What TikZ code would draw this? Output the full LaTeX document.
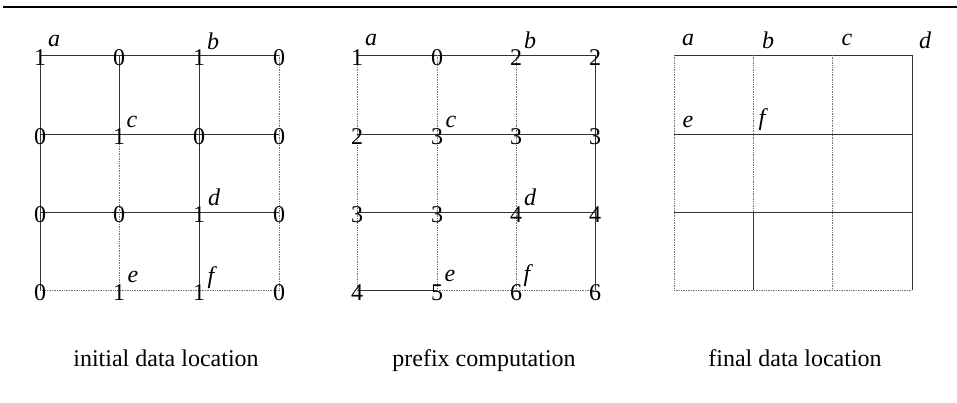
\documentclass[tikz,border=0pt]{standalone}
\usepackage{fontspec}
\setmainfont{Liberation Serif}
\tikzset{
  grid/.style={line width=0.7pt, black!80},
  faint/.style={line width=0.7pt, black!55, densely dotted},
  num/.style={font=\fontsize{24}{28}\selectfont, inner sep=0pt, yshift=-3pt},
  lbl/.style={font=\fontsize{24}{28}\selectfont\itshape, inner sep=0pt},
  captext/.style={font=\fontsize{24}{28}\selectfont, inner sep=0pt, anchor=base}
}
\begin{document}
\begin{tikzpicture}[x=1pt, y=-1pt]
    \useasboundingbox (0,0) rectangle (957,403);

    % top rule
    \coordinate (ruleL) at (3,7);
    \coordinate (ruleR) at (957,7);
    \draw[line width=2pt] (ruleL) -- (ruleR);

    % grid points of the three panels
    \foreach \y [count=\j] in {55,134,212,290} {
        \foreach \x [count=\i] in {40,119,199,279}  \coordinate (A\i\j) at (\x,\y);
        \foreach \x [count=\i] in {357,437,516,595} \coordinate (B\i\j) at (\x,\y);
        \foreach \x [count=\i] in {674,753,832,912} \coordinate (C\i\j) at (\x,\y);
    }

    % initial data location
    \draw[grid] (A11) -- (A41);
    \draw[grid] (A12) -- (A42);
    \draw[grid] (A13) -- (A43);
    \draw[faint] (A14) -- (A44);
    \draw[grid] (A11) -- (A14);
    \draw[grid] (A21) -- (A22);
    \draw[faint] (A22) -- (A24);
    \draw[grid] (A31) -- (A34);
    \draw[faint] (A41) -- (A44);

    \node[num] (a11) at (A11) {1};
    \node[num] (a21) at (A21) {0};
    \node[num] (a31) at (A31) {1};
    \node[num] (a41) at (A41) {0};
    \node[num] (a12) at (A12) {0};
    \node[num] (a22) at (A22) {1};
    \node[num] (a32) at (A32) {0};
    \node[num] (a42) at (A42) {0};
    \node[num] (a13) at (A13) {0};
    \node[num] (a23) at (A23) {0};
    \node[num] (a33) at (A33) {1};
    \node[num] (a43) at (A43) {0};
    \node[num] (a14) at (A14) {0};
    \node[num] (a24) at (A24) {1};
    \node[num] (a34) at (A34) {1};
    \node[num] (a44) at (A44) {0};

    \node[lbl] (la) at ([shift={(14,-14)}]A11) {a};
    \node[lbl] (lb) at ([shift={(14,-14)}]A31) {b};
    \node[lbl] (lc) at ([shift={(13,-12)}]A22) {c};
    \node[lbl] (ld) at ([shift={(15,-15)}]A33) {d};
    \node[lbl] (le) at ([shift={(14,-13)}]A24) {e};
    \node[lbl] (lf) at ([shift={(12,-12)}]A34) {f};

    % prefix computation
    \draw[grid] (B11) -- (B41);
    \draw[grid] (B12) -- (B42);
    \draw[grid] (B13) -- (B43);
    \draw[grid] (B14) -- (B24);
    \draw[faint] (B24) -- (B44);
    \draw[faint] (B11) -- (B14);
    \draw[faint] (B21) -- (B24);
    \draw[faint] (B31) -- (B34);
    \draw[grid] (B41) -- (B44);

    \node[num] (b11) at (B11) {1};
    \node[num] (b21) at (B21) {0};
    \node[num] (b31) at (B31) {2};
    \node[num] (b41) at (B41) {2};
    \node[num] (b12) at (B12) {2};
    \node[num] (b22) at (B22) {3};
    \node[num] (b32) at (B32) {3};
    \node[num] (b42) at (B42) {3};
    \node[num] (b13) at (B13) {3};
    \node[num] (b23) at (B23) {3};
    \node[num] (b33) at (B33) {4};
    \node[num] (b43) at (B43) {4};
    \node[num] (b14) at (B14) {4};
    \node[num] (b24) at (B24) {5};
    \node[num] (b34) at (B34) {6};
    \node[num] (b44) at (B44) {6};

    \node[lbl] (pa) at ([shift={(14,-15)}]B11) {a};
    \node[lbl] (pb) at ([shift={(14,-15)}]B31) {b};
    \node[lbl] (pc) at ([shift={(14,-12)}]B22) {c};
    \node[lbl] (pd) at ([shift={(14,-15)}]B33) {d};
    \node[lbl] (pe) at ([shift={(13,-14)}]B24) {e};
    \node[lbl] (pf) at ([shift={(11,-14)}]B34) {f};

    % final data location
    \draw[grid] (C11) -- (C41);
    \draw[grid] (C12) -- (C42);
    \draw[grid] (C13) -- (C43);
    \draw[faint] (C14) -- (C44);
    \draw[faint] (C11) -- (C14);
    \draw[faint] (C21) -- (C23);
    \draw[grid] (C23) -- (C24);
    \draw[faint] (C31) -- (C34);
    \draw[grid] (C41) -- (C44);

    \node[lbl] (fa) at ([shift={(14,-15)}]C11) {a};
    \node[lbl] (fb) at ([shift={(15,-15)}]C21) {b};
    \node[lbl] (fc) at ([shift={(15,-15)}]C31) {c};
    \node[lbl] (fd) at ([shift={(13,-15)}]C41) {d};
    \node[lbl] (fe) at ([shift={(14,-12)}]C12) {e};
    \node[lbl] (ff) at ([shift={(9,-14)}]C22) {f};

    % captions
    \node[captext] (cap1) at (166,366) {initial data location};
    \node[captext] (cap2) at (484,366) {prefix computation};
    \node[captext] (cap3) at (795,366) {final data location};
\end{tikzpicture}
\end{document}
